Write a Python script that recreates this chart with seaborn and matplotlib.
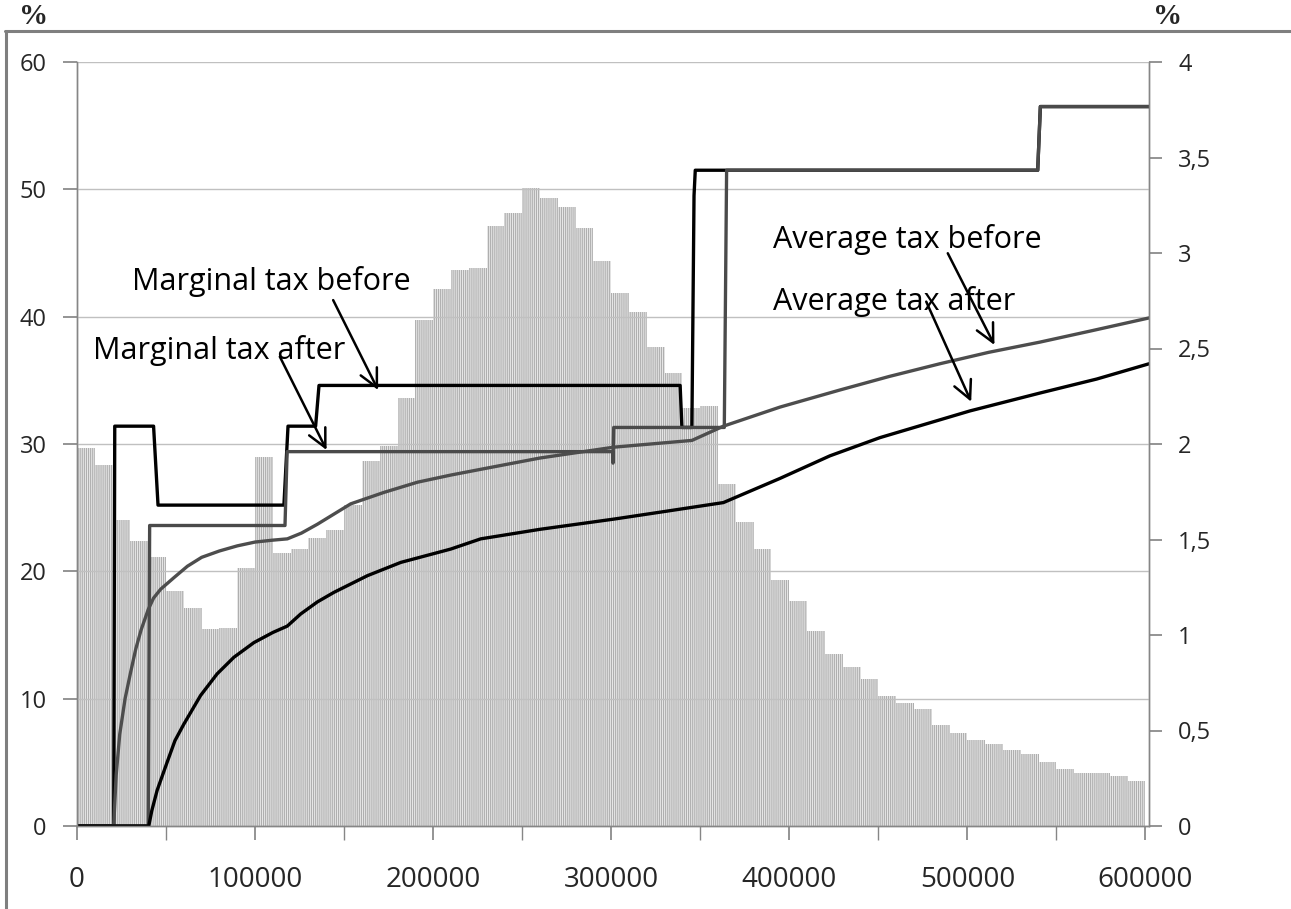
import numpy as np
import pandas as pd
import matplotlib
matplotlib.use("Agg")
import matplotlib.pyplot as plt
from matplotlib.lines import Line2D
from matplotlib.ticker import MultipleLocator, FuncFormatter
import seaborn as sns

# income distribution, share of people per 10000 bin (right axis, %)
bin_edges = list(range(0, 610000, 10000))
bin_share = [1.98, 1.89, 1.60, 1.49, 1.41, 1.23, 1.14, 1.03, 1.035, 1.35,
             1.93, 1.43, 1.45, 1.51, 1.55, 1.68, 1.91, 1.99, 2.24, 2.65,
             2.81, 2.91, 2.92, 3.14, 3.21, 3.34, 3.29, 3.24, 3.13, 2.96,
             2.79, 2.69, 2.51, 2.37, 2.19, 2.20, 1.79, 1.59, 1.45, 1.29,
             1.18, 1.02, 0.90, 0.83, 0.77, 0.68, 0.645, 0.61, 0.53, 0.485,
             0.45, 0.43, 0.40, 0.375, 0.335, 0.30, 0.28, 0.275, 0.26, 0.235]

# marginal tax rates (left axis, %)
marg_before_x = [0, 20600, 21200, 43000, 45500, 116200, 118500, 134000, 135900,
                 338700, 339700, 345300, 346500, 347200, 539500, 541000, 602000]
marg_before_y = [0, 0, 31.4, 31.4, 25.2, 25.2, 31.4, 31.4, 34.6,
                 34.6, 31.3, 31.3, 49.5, 51.5, 51.5, 56.5, 56.5]

marg_after_x = [0, 40000, 40800, 116800, 118000, 300800, 301000, 301400,
                363500, 364800, 539500, 541000, 602000]
marg_after_y = [0, 0, 23.6, 23.6, 29.4, 29.4, 28.5, 31.3,
                31.3, 51.5, 51.5, 56.5, 56.5]

# average tax rates (left axis, %)
avg_before_x = [0, 20600, 22000, 24000, 27000, 30000, 33000, 36000, 40000, 43000,
                47000, 54400, 62000, 70000, 80000, 90000, 100000, 110000, 118100,
                126000, 135000, 153700, 172400, 191200, 209900, 230000, 260000,
                301400, 345300, 363000, 394800, 428400, 456000, 484500, 512000,
                540700, 570000, 602000]
avg_before_y = [0, 0, 4.0, 7.2, 10.0, 12.0, 13.9, 15.4, 17.0, 17.9,
                18.6, 19.5, 20.4, 21.1, 21.6, 22.0, 22.3, 22.45, 22.55,
                23.0, 23.7, 25.3, 26.2, 27.0, 27.56, 28.1, 28.9,
                29.75, 30.28, 31.4, 32.9, 34.24, 35.3, 36.3, 37.2,
                38.0, 38.9, 39.9]

avg_after_x = [0, 40300, 42000, 45000, 50600, 55000, 60000, 69400, 78700, 88100,
               99300, 110000, 118100, 125600, 135000, 144300, 163100, 181800,
               209900, 226700, 260000, 301400, 330000, 363000, 394800, 422800,
               450900, 501500, 540700, 572600, 602000]
avg_after_y = [0, 0, 1.2, 2.8, 5.0, 6.7, 8.0, 10.25, 11.95, 13.25,
               14.4, 15.2, 15.7, 16.65, 17.6, 18.35, 19.66, 20.7,
               21.75, 22.55, 23.3, 24.1, 24.7, 25.4, 27.3, 29.07,
               30.5, 32.6, 34.0, 35.1, 36.3]

# labels: text, text position (left, baseline), arrow start, arrow end
labels = ["Marginal tax before", "Marginal tax after",
          "Average tax before", "Average tax after"]
label_pos = [(30700, 42.1), (9150, 36.7), (390800, 45.37), (390800, 40.52)]
arrow_from = [(143850, 41.3), (113900, 36.86), (489000, 44.98), (476900, 41.18)]
arrow_to = [(169100, 34.24), (140150, 29.53), (515200, 37.78), (502150, 33.32)]

sns.set_theme(style="white")
plt.rcParams['font.family'] = ['Open Sans', 'DejaVu Sans']
plt.rcParams['hatch.linewidth'] = 0.8

W, H = 1291, 909
fig = plt.figure(figsize=(W / 100, H / 100), dpi=100)
ax = fig.add_axes([77 / W, 1 - 826 / H, (1149 - 77) / W, (826 - 62) / H])
ax_bar = ax.twinx()
ax.set_zorder(ax_bar.get_zorder() + 1)
ax.patch.set_visible(False)

# histogram bars on the right axis
centers = [e + 5000 for e in bin_edges[:-1]]
sns.histplot(x=centers, weights=bin_share, bins=bin_edges, ax=ax_bar,
             color='#e8e8e8', edgecolor='#afafaf', linewidth=0, alpha=1,
             hatch='||||||||')
ax_bar.set_ylim(0, 4)
ax_bar.set_ylabel('')

# tax lines on the left axis
lines = [
    (marg_before_x, marg_before_y, '#000000'),
    (marg_after_x, marg_after_y, '#4a4a4a'),
    (avg_before_x, avg_before_y, '#4d4d4d'),
    (avg_after_x, avg_after_y, '#000000'),
]
for xs, ys, col in lines:
    sns.lineplot(x=xs, y=ys, ax=ax, color=col, linewidth=2.4,
                 sort=False, estimator=None)

ax.set_xlim(0, 602000)
ax_bar.set_xlim(0, 602000)
ax.set_ylim(0, 60)

# annotations
for txt, (tx, ty), a0, a1 in zip(labels, label_pos, arrow_from, arrow_to):
    ax.text(tx, ty, txt, fontsize=22, ha='left', va='baseline', color='black')
    ax.annotate('', xy=a1, xytext=a0,
                arrowprops=dict(arrowstyle='->,head_length=0.5,head_width=0.25',
                                lw=1.8, color='black', mutation_scale=26,
                                shrinkA=0, shrinkB=0))

# axes styling
grey = '#868686'
ax.yaxis.set_major_locator(MultipleLocator(10))
ax.grid(axis='y', color='#c0c0c0', linewidth=1)
ax.grid(axis='x', visible=False)
ax.set_axisbelow(True)
ax.xaxis.set_major_locator(MultipleLocator(100000))
ax.xaxis.set_minor_locator(MultipleLocator(50000))
ax.xaxis.set_major_formatter(FuncFormatter(lambda v, p: f"{int(v)}"))
ax.tick_params(axis='x', which='both', bottom=True, length=10, color=grey,
               labelsize=20, pad=19)
ax.tick_params(axis='y', left=True, length=10, color=grey, labelsize=17, pad=12)
ax_bar.yaxis.set_major_locator(MultipleLocator(0.5))
ax_bar.yaxis.set_major_formatter(FuncFormatter(lambda v, p: f"{v:g}".replace('.', ',')))
ax_bar.tick_params(axis='y', right=True, length=9, color=grey, labelsize=17, pad=12)
ax_bar.tick_params(axis='x', bottom=False, labelbottom=False)
ax_bar.grid(False)
for a in (ax, ax_bar):
    a.spines['top'].set_visible(False)
    for s in ('left', 'right', 'bottom'):
        a.spines[s].set_color(grey)
        a.spines[s].set_linewidth(1)
ax.set_xlabel('')
ax.set_ylabel('')

# outer frame and unit labels
fig.add_artist(Line2D([5 / W, 1], [1 - 31 / H] * 2, transform=fig.transFigure,
                      color='#7f7f7f', linewidth=2.2))
fig.add_artist(Line2D([6 / W] * 2, [0, 1 - 31 / H], transform=fig.transFigure,
                      color='#7f7f7f', linewidth=2.2))
for px in (34, 1168):
    fig.text(px / W, 1 - 17 / H, '%', ha='center', va='center', fontsize=21,
             fontweight='bold', family=['Liberation Serif', 'DejaVu Serif'])

fig.savefig('out.png', dpi=100)
